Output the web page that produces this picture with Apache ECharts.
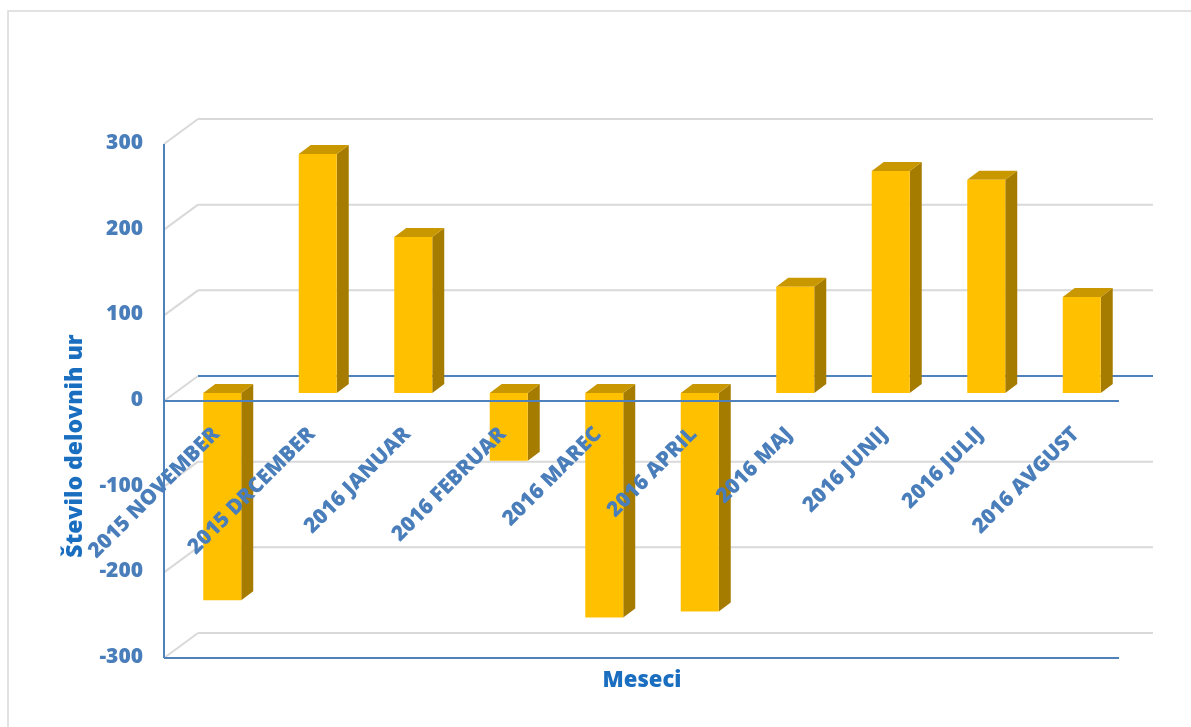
<!DOCTYPE html>
<html>
<head>
<meta charset="utf-8">
<script src="https://cdn.jsdelivr.net/npm/echarts@6/dist/echarts.min.js"></script>
<style>
html,body{margin:0;padding:0;background:#fff;}
#chart{width:1191px;height:727px;}
</style>
</head>
<body>
<div id="chart"></div>
<script>
const categories = ['2015 NOVEMBER','2015 DRCEMBER','2016 JANUAR','2016 FEBRUAR','2016 MAREC','2016 APRIL','2016 MAJ','2016 JUNIJ','2016 JULIJ','2016 AVGUST'];
const values = [-242, 279, 182, -79, -262, -255, 124, 259, 249, 112];
const yTicks = [-300, -200, -100, 0, 100, 200, 300];
const yAxisTitle = 'Število delovnih ur';
const xAxisTitle = 'Meseci';

const FONT = '"Open Sans", Lato, sans-serif';
const W = '800 ';
const LABEL_BLUE = '#4A7EBB';
const TITLE_BLUE = '#1A6EC0';
const GRID_GRAY = '#D9D9D9';
const AXIS_BLUE = '#4F81BD';
// 3D offsets relative to bar plane
const FRONT = [-10.5, 8];
const BACK = [23.5, -17];

const chart = echarts.init(document.getElementById('chart'), null, {renderer: 'canvas'});

function backFrame(params, api) {
  const v = api.value(0);
  const cs = params.coordSys;
  const y = api.coord([0, v])[1];
  const fx = cs.x + FRONT[0], fy = y + FRONT[1];
  const bx = cs.x + BACK[0], by = y + BACK[1];
  const bx2 = cs.x + cs.width + BACK[0];
  return {
    type: 'group',
    children: [
      {type: 'line', shape: {x1: fx, y1: fy, x2: bx, y2: by}, style: {stroke: GRID_GRAY, lineWidth: 2}},
      {type: 'line', shape: {x1: bx, y1: by, x2: bx2, y2: by}, style: {stroke: v === 0 ? AXIS_BLUE : GRID_GRAY, lineWidth: 2}},
      {type: 'text', x: fx - 21, y: fy - 1,
        style: {text: String(v), align: 'right', verticalAlign: 'middle', fill: LABEL_BLUE, font: W + '21px ' + FONT}}
    ]
  };
}

function frontFrame(params, api) {
  const v = api.value(0);
  const cs = params.coordSys;
  const y = api.coord([0, v])[1] + FRONT[1];
  const x1 = cs.x + FRONT[0], x2 = cs.x + cs.width + FRONT[0];
  const children = [];
  if (v === 0 || v === yTicks[0]) {
    children.push({type: 'line', shape: {x1: x1, y1: y, x2: x2, y2: y}, style: {stroke: AXIS_BLUE, lineWidth: 2}});
  }
  if (v === yTicks[0]) {
    const yTop = api.coord([0, yTicks[yTicks.length - 1]])[1] + FRONT[1];
    children.push({type: 'line', shape: {x1: x1, y1: yTop, x2: x1, y2: y}, style: {stroke: AXIS_BLUE, lineWidth: 2}});
  }
  return {type: 'group', children: children};
}

function bar3d(params, api) {
  const idx = api.value(0);
  const val = api.value(1);
  const p0 = api.coord([idx, 0]);
  const p1 = api.coord([idx, val]);
  const w = 38, dx = 12, dy = 9;
  const x0 = p0[0] - w / 2, x1 = p0[0] + w / 2;
  const yTop = Math.min(p0[1], p1[1]);
  const yBot = Math.max(p0[1], p1[1]);
  return {
    type: 'group',
    children: [
      {type: 'polygon', shape: {points: [[x1, yTop], [x1 + dx, yTop - dy], [x1 + dx, yBot - dy], [x1, yBot]]}, style: {fill: '#A67C00'}},
      {type: 'polygon', shape: {points: [[x0, yTop], [x0 + dx, yTop - dy], [x1 + dx, yTop - dy], [x1, yTop]]}, style: {fill: '#C99700'}},
      {type: 'rect', shape: {x: x0, y: yTop, width: w, height: yBot - yTop}, style: {fill: '#FFC000'}}
    ]
  };
}

function catLabel(params, api) {
  const idx = api.value(0);
  const p = api.coord([idx, 0]);
  return {
    type: 'text',
    x: p[0] - 6,
    y: p[1] + 38,
    rotation: Math.PI / 4,
    style: {
      text: categories[idx],
      align: 'right',
      verticalAlign: 'middle',
      fill: LABEL_BLUE,
      font: W + '21px ' + FONT
    }
  };
}

const option = {
  backgroundColor: '#ffffff',
  animation: false,
  grid: {left: 174.5, right: 61.5, top: 136, bottom: 77},
  xAxis: {
    type: 'category',
    data: categories,
    axisLine: {show: false},
    axisTick: {show: false},
    axisLabel: {show: false},
    splitLine: {show: false}
  },
  yAxis: {
    type: 'value',
    min: -300,
    max: 300,
    interval: 100,
    axisLine: {show: false},
    axisTick: {show: false},
    splitLine: {show: false},
    axisLabel: {show: false}
  },
  graphic: [
    {type: 'rect', shape: {x: 8, y: 11, width: 1400, height: 900}, style: {fill: 'none', stroke: GRID_GRAY, lineWidth: 1.5}, z: -10},
    {type: 'text', x: 75, y: 446, rotation: Math.PI / 2,
      style: {text: yAxisTitle, align: 'center', verticalAlign: 'middle', fill: TITLE_BLUE, font: W + '23px ' + FONT}},
    {type: 'text', x: 642, y: 681,
      style: {text: xAxisTitle, align: 'center', verticalAlign: 'middle', fill: TITLE_BLUE, font: W + '22px ' + FONT}}
  ],
  series: [
    {type: 'custom', name: 'back', renderItem: backFrame, data: yTicks.map(v => [v]), encode: {y: 0}, z: 1, silent: true},
    {type: 'custom', name: 'bars', renderItem: bar3d, data: values.map((v, i) => [i, v]), encode: {x: 0, y: 1}, z: 2},
    {type: 'custom', name: 'front', renderItem: frontFrame, data: yTicks.map(v => [v]), encode: {y: 0}, z: 3, silent: true},
    {type: 'custom', name: 'labels', renderItem: catLabel, data: categories.map((c, i) => [i]), encode: {x: 0}, z: 4, silent: true}
  ]
};
chart.setOption(option);
</script>
</body>
</html>
